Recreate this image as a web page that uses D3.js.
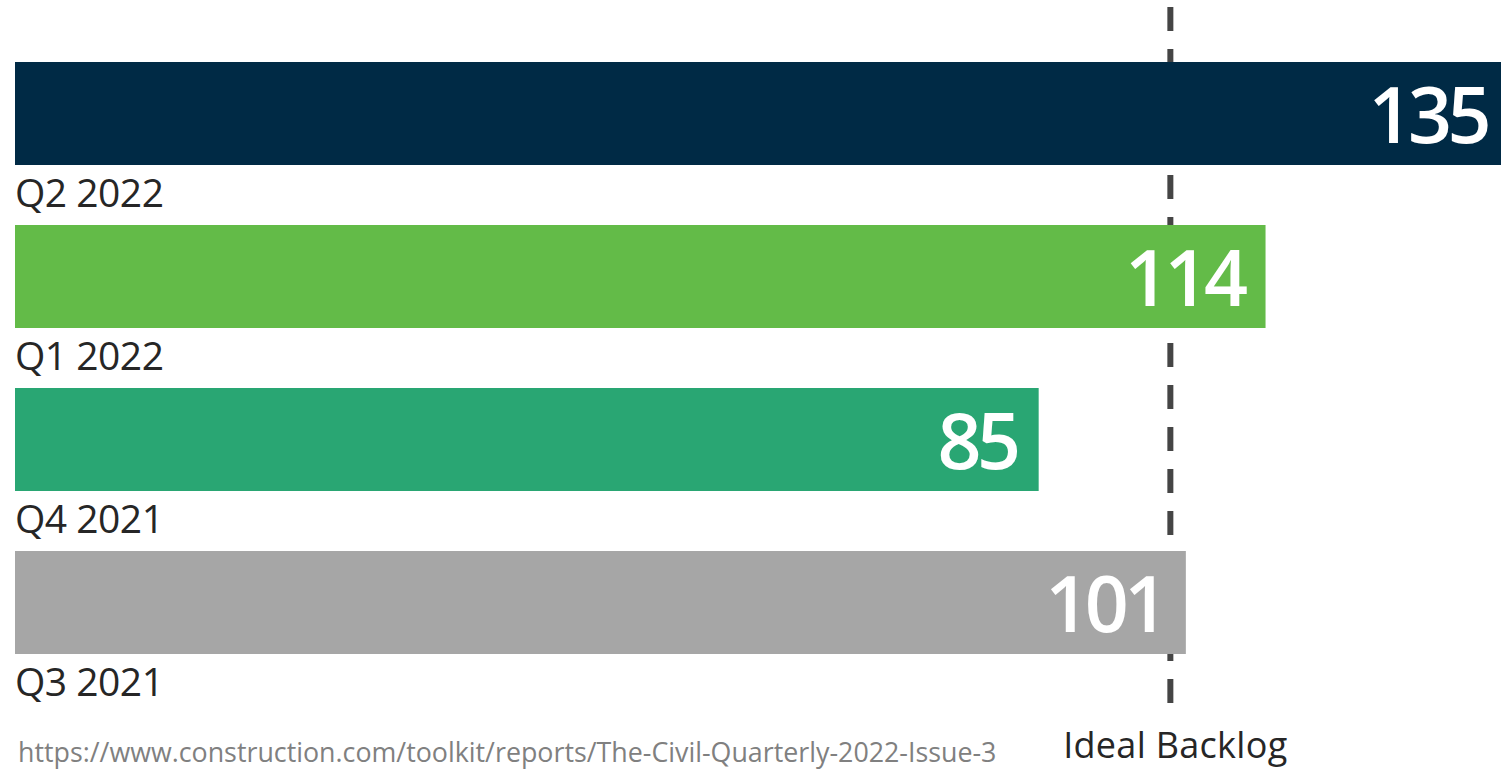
<!DOCTYPE html>
<html>
<head>
<meta charset="utf-8">
<script src="https://cdn.jsdelivr.net/npm/d3@7"></script>
<style>
  html, body { margin: 0; padding: 0; background: #fff; overflow: hidden; }
  svg { display: block; }
</style>
</head>
<body>
<svg id="chart" width="1501" height="771"></svg>
<script>
// ---- data ----
const categories = ["Q2 2022", "Q1 2022", "Q4 2021", "Q3 2021"];
const values = [135, 114, 85, 101];               // labels shown on bars
const barLengths = [135, 113, 92.5, 105.8];       // bar extents as drawn (infographic, not strictly proportional)
const colors = ["#002a45", "#63bb48", "#29a673", "#a6a6a6"];
const idealBacklog = 104.4;
const idealLabel = "Ideal Backlog";
const sourceText = "https://www.construction.com/toolkit/reports/The-Civil-Quarterly-2022-Issue-3";

const svg = d3.select("#chart");
const font = "'Open Sans', 'Noto Sans', sans-serif";

const x = d3.scaleLinear().domain([0, 135]).range([15, 1509]);
const y = d3.scaleBand().domain(categories).range([62, 654]).paddingInner(60 / 163).paddingOuter(0).align(0);

// ideal backlog dashed line (behind bars)
svg.append("line")
  .attr("x1", x(idealBacklog)).attr("x2", x(idealBacklog))
  .attr("y1", 7).attr("y2", 703)
  .attr("stroke", "#454545").attr("stroke-width", 6)
  .attr("stroke-dasharray", "24 18");

const rows = svg.selectAll("g.row").data(categories).join("g").attr("class", "row");

rows.append("rect")
  .attr("x", x(0))
  .attr("y", d => y(d))
  .attr("width", (d, i) => x(barLengths[i]) - x(0))
  .attr("height", y.bandwidth())
  .attr("fill", (d, i) => colors[i]);

rows.append("text")
  .attr("x", (d, i) => x(barLengths[i]) - 22)
  .attr("y", d => y(d) + y.bandwidth() / 2 + 29.5)
  .attr("text-anchor", "end")
  .attr("font-family", font)
  .attr("font-weight", 600)
  .attr("font-size", 77)
  .attr("letter-spacing", -4.5)
  .attr("fill", "#fff")
  .text((d, i) => values[i]);

rows.append("text")
  .attr("x", 15)
  .attr("y", d => y(d) + y.bandwidth() + 42)
  .attr("font-family", font)
  .attr("font-size", 39)
  .attr("letter-spacing", -0.5)
  .attr("fill", "#262626")
  .text(d => d);

svg.append("text")
  .attr("x", x(idealBacklog) + 5)
  .attr("y", 758)
  .attr("text-anchor", "middle")
  .attr("font-family", font)
  .attr("font-size", 36)
  .attr("letter-spacing", 0.3)
  .attr("fill", "#262626")
  .text(idealLabel);

svg.append("text")
  .attr("x", 18)
  .attr("y", 762)
  .attr("font-family", font)
  .attr("font-size", 26.8)
  .attr("fill", "#808080")
  .text(sourceText);
</script>
</body>
</html>
